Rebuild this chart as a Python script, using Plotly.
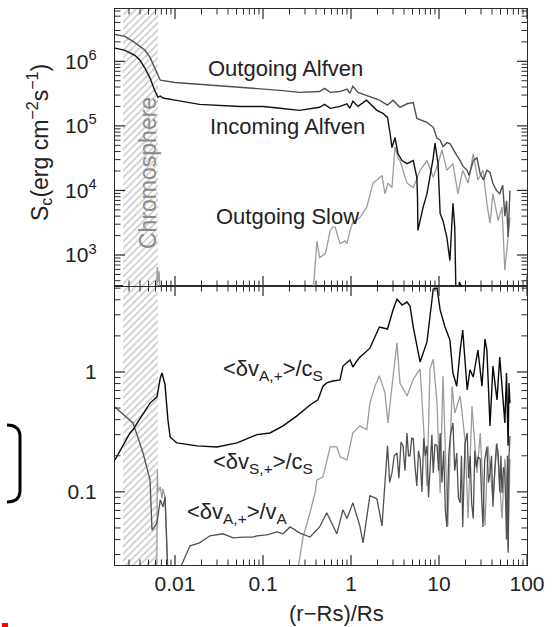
import math
import plotly.graph_objects as go

# ---------------- data ----------------
chromo_x = [0.00257, 0.0064]

# Upper panel: S_c
x_out_alf = [0.00208, 0.0027, 0.0035, 0.00456, 0.0052, 0.0059, 0.0068, 0.01, 0.019, 0.055,
             0.1, 0.156, 0.26, 0.44, 0.5, 0.58, 0.75, 0.9, 0.97, 1.05,
             1.2, 1.5, 2.1, 2.6, 3.0, 3.6, 4.33, 5.1, 5.6, 7.3,
             8.6, 9.5, 10.3, 11.1, 12.3, 13.3, 14.4, 15.9, 17.4, 18.6,
             20.9, 22, 24.5, 27, 29.4, 32, 35, 38, 41, 45,
             49, 53, 56, 58.5, 61, 64]
y_out_alf = [2.6e6, 2.44e6, 1.95e6, 1.48e6, 1.15e6, 7.8e5, 5.1e5, 4.7e5, 4.4e5, 4.0e5,
             3.8e5, 3.55e5, 3.3e5, 3.4e5, 3.8e5, 3.3e5, 3.4e5, 3.7e5, 3.2e5, 4.1e5,
             3.3e5, 2.97e5, 2.5e5, 2.1e5, 2.5e5, 1.94e5, 2.2e5, 2.3e5, 1.3e5, 1.13e5,
             9.5e4, 6.4e4, 6.0e4, 4.8e4, 5.5e4, 5.3e4, 4.5e4, 3.5e4, 2.9e4, 2.4e4,
             2.05e4, 1.7e4, 2.9e4, 3.2e4, 1.8e4, 1.45e4, 2.05e4, 1.9e4, 1.28e4, 1.0e4,
             8.9e3, 1.2e4, 4.0e3, 6.9e3, 1.9e3, 1.0e4]

x_in_alf = [0.00208, 0.0027, 0.0035, 0.004, 0.00456, 0.0052, 0.0059, 0.0064, 0.0068, 0.0073,
            0.01, 0.019, 0.055, 0.1, 0.156, 0.26, 0.44, 0.5, 0.58, 0.75,
            0.9, 0.97, 1.05, 1.2, 1.5, 1.64, 1.97, 2.31, 2.6, 2.77,
            2.92, 3.16, 3.42, 3.8, 4.33, 5.1, 5.6, 5.7, 5.76, 6.6,
            7.3, 8.6, 9.0, 9.75, 10.3, 11.1, 12.3, 13.3, 14.1, 14.4,
            15.1, 15.5, 15.9, 17.0, 18.0, 18.6]
y_in_alf = [1.6e6, 1.48e6, 1.24e6, 1.04e6, 7.8e5, 5.5e5, 3.5e5, 2.77e5, 2.9e5, 2.7e5,
            2.5e5, 2.15e5, 2.0e5, 2.0e5, 1.87e5, 1.74e5, 1.94e5, 2.15e5, 1.87e5, 2.0e5,
            2.2e5, 1.87e5, 2.4e5, 2.0e5, 2.5e5, 2.2e5, 1.74e5, 1.56e5, 1.35e5, 7.9e4,
            4.6e4, 6.6e4, 3.7e4, 2.9e4, 2.6e4, 2.9e4, 1.6e4, 7.8e3, 2.4e3, 5.5e3,
            8.9e3, 3.2e4, 5.4e4, 2.6e4, 4.4e3, 3.4e3, 1.86e3, 820, 3.4e3, 6.3e3,
            2.7e3, 510, 50, 380, 330, 50]

x_out_slow = [0.0061, 0.0063, 0.0064, 0.0066, 0.0068, None,
              0.37, 0.41, 0.44, 0.51, 0.53, 0.58, 0.62, 0.66, 0.75, 0.855,
              0.9, 0.975, 1.05, 1.26, 1.51, 1.64, 1.78, 1.97, 2.25, 2.43,
              2.63, 2.92, 3.0, 3.16, 3.42, 3.6, 4.33, 5.1, 6.1, 7.3,
              8.6, 9.75, 10.8, 12.3, 14.4, 16.4, 18.6, 21.4, 24.5, 27.7,
              31.6, 35, 38, 41, 47, 52, 56, 61, 64]
y_out_slow = [200, 650, 380, 560, 200, None,
              250, 1650, 910, 1050, 1300, 2400, 2700, 2700, 1500, 1650,
              1500, 2400, 3200, 3800, 5500, 8300, 1.3e4, 1.45e4, 1.7e4, 8.9e3,
              1.3e4, 1.1e4, 2.05e4, 4.7e4, 3.2e4, 2.9e4, 1.3e4, 1.1e4, 2.05e4, 2.9e4,
              1.6e4, 2.6e4, 4.2e4, 2.05e4, 2.6e4, 8.9e3, 2.05e4, 1.3e4, 3.7e4, 1.45e4,
              2.05e4, 6.3e3, 3.1e3, 8.9e3, 3.4e3, 5.5e3, 580, 2.2e3, 3.8e3]

# Lower panel: amplitudes
x_vA_cS = [0.00208, 0.00308, 0.00333, 0.0048, 0.0052, 0.00624, 0.0068, 0.00712, 0.0077, 0.0083,
           0.0088, 0.0105, 0.0178, 0.030, 0.0507, 0.0855, 0.12, 0.169, 0.219, 0.243,
           0.342, 0.42, 0.44, 0.48, 0.53, 0.62, 0.75, 0.81, 0.975, 1.05,
           1.17, 1.26, 1.64, 1.97, 2.1, 2.6, 3.0, 3.33, 3.8, 4.33,
           4.68, 5.1, 5.6, 6.1, 7.3, 8.6, 9.5, 10.3, 11.7, 13.3,
           14.4, 15.9, 17.4, 18.6, 20.9, 22.5, 24.5, 27.7, 30.8, 33.3,
           35, 38, 41, 45.6, 49, 52, 56, 58.5, 61, 62.4, 64]
y_vA_cS = [0.185, 0.31, 0.33, 0.51, 0.55, 0.62, 0.89, 0.98, 0.78, 0.40,
           0.287, 0.256, 0.242, 0.237, 0.256, 0.30, 0.31, 0.355, 0.41, 0.43,
           0.53, 0.585, 0.64, 0.76, 0.81, 0.84, 0.86, 1.12, 1.26, 1.10,
           1.24, 1.33, 1.58, 2.11, 2.37, 2.28, 3.29, 4.06, 3.62, 3.83,
           3.55, 2.37, 1.65, 1.21, 1.78, 4.92, 5.0, 3.29, 2.37, 1.85,
           0.98, 0.76, 1.52, 2.24, 0.71, 1.04, 0.91, 1.52, 0.76, 1.88,
           1.52, 0.355, 1.12, 0.585, 1.33, 0.72, 0.376, 0.98, 0.242, 0.81, 0.55]

x_vS_cS = [0.0062, 0.0063, 0.0064, 0.0068, 0.00712, 0.0073, 0.0077, 0.0081, 0.0083, None,
           0.243, 0.285, 0.342, 0.39, 0.41, 0.48, 0.58, 0.69, 0.75, 0.90,
           1.05, 1.26, 1.51, 1.64, 1.87, 2.1, 2.43, 2.63, 2.92, 3.33,
           3.6, 4.33, 5.1, 6.1, 6.6, 7.3, 7.9, 8.6, 9.5, 10.3,
           11.1, 12.6, 14.1, 15.1, 17.4, 19.7, 21.4, 23.7, 27.0, 29.4,
           33.3, 36, 41, 45.6, 52, 56, 58.5, 61, 64]
y_vS_cS = [0.02, 0.155, 0.10, 0.11, 0.088, 0.106, 0.091, 0.035, 0.02, None,
           0.02, 0.042, 0.067, 0.098, 0.126, 0.133, 0.237, 0.237, 0.196, 0.185,
           0.31, 0.355, 0.33, 0.55, 0.76, 0.93, 0.67, 0.376, 0.76, 1.75,
           0.81, 0.63, 0.87, 1.06, 0.405, 0.112, 1.06, 1.28, 0.55, 0.098,
           0.93, 0.052, 0.76, 0.455, 0.63, 0.277, 0.06, 0.52, 0.144, 0.31,
           0.052, 0.242, 0.0875, 0.256, 0.06, 0.188, 0.128, 0.0335, 0.188]

x_vA_vA = [0.00208, 0.00333, 0.00433, 0.0052, 0.00548, 0.00624, 0.0068, 0.0073, 0.0077, 0.0081, 0.0083, None,
           0.0105, 0.0148, 0.019, 0.025, 0.0351, 0.0456, 0.0593, 0.0769, 0.0855, 0.111,
           0.144, 0.169, 0.203, 0.26, 0.342, 0.44, 0.53, 0.69, 0.81, 0.90,
           1.05, 1.26, 1.37, 1.64, 1.97, 2.25,
           2.6, 2.75, 2.92, 3.1, 3.33, 3.5, 3.7, 3.9, 4.1, 4.33,
           4.5, 4.68, 4.9, 5.1, 5.35, 5.6, 5.85, 6.1, 6.4, 6.7,
           7.0, 7.3, 7.6, 8.0, 8.3, 8.6, 9.0, 9.5, 9.9, 10.3,
           10.8, 11.3, 11.8, 12.3, 12.9, 13.5, 14.4, 15.1, 15.9, 16.6,
           17.4, 18.0, 18.6, 19.7, 20.9, 21.7, 22.6, 23.5, 24.5, 25.5,
           26.6, 27.7, 29.4, 30.5, 31.6, 33, 35, 36.5, 38, 39.5,
           41, 43, 45, 47, 49, 50.5, 52, 54, 56, 57,
           58.5, 60, 61, 62.5, 64]
y_vA_vA = [0.51, 0.376, 0.211, 0.126, 0.048, 0.055, 0.086, 0.075, 0.091, 0.035, 0.02, None,
           0.02, 0.0355, 0.0376, 0.043, 0.0447, 0.0414, 0.042, 0.042, 0.043, 0.0438,
           0.0464, 0.0447, 0.051, 0.0455, 0.042, 0.051, 0.067, 0.0447, 0.071, 0.06,
           0.081, 0.052, 0.0376, 0.093, 0.0875, 0.052,
           0.242, 0.12, 0.144, 0.2, 0.211, 0.13, 0.26, 0.242, 0.15, 0.31,
           0.2, 0.2, 0.28, 0.277, 0.16, 0.112, 0.22, 0.188, 0.1, 0.28,
           0.2, 0.242, 0.09, 0.2, 0.3, 0.144, 0.25, 0.242, 0.15, 0.31,
           0.12, 0.22, 0.07, 0.051, 0.2, 0.3, 0.376, 0.15, 0.211, 0.09,
           0.081, 0.2, 0.051, 0.25, 0.31, 0.13, 0.2, 0.08, 0.06, 0.22,
           0.16, 0.196, 0.188, 0.09, 0.051, 0.18, 0.237, 0.12, 0.144, 0.2,
           0.075, 0.15, 0.25, 0.211, 0.1, 0.2, 0.098, 0.16, 0.144, 0.09,
           0.04, 0.2, 0.031, 0.2, 0.293]

x_tickvals = [0.01, 0.1, 1, 10, 100]
x_ticktext = ["0.01", "0.1", "1", "10", "100"]
y_top_tickvals = [1e3, 1e4, 1e5, 1e6]
y_top_ticktext = ["10<sup>3</sup>", "10<sup>4</sup>", "10<sup>5</sup>", "10<sup>6</sup>"]
y_bot_tickvals = [0.1, 1]
y_bot_ticktext = ["0.1", "1"]

# axis ranges (log10)
x_range = [-2.682, 2.0]
y_top_range = [2.52, 6.81]
y_bot_range = [-1.61, 0.717]


def minor_ticks(lo, hi):
    vals = []
    for d in range(math.floor(lo), math.ceil(hi) + 1):
        for m in range(2, 10):
            v = m * 10.0 ** d
            if lo < math.log10(v) < hi:
                vals.append(v)
    return vals


def major_ticks(lo, hi):
    return [10.0 ** d for d in range(math.floor(lo), math.ceil(hi) + 1) if lo <= d <= hi]


# ---------------- figure ----------------
FONT = "Liberation Sans, Arial, sans-serif"
AX = "#2a2a2a"
fig = go.Figure()

# chromosphere hatch (both panels)
for xa, ya, lo, hi in [("x2", "y2", 1e1, 1e8), ("x", "y", 1e-3, 1e2)]:
    fig.add_trace(go.Scatter(
        x=[chromo_x[0], chromo_x[1], chromo_x[1], chromo_x[0], chromo_x[0]],
        y=[lo, lo, hi, hi, lo], xaxis=xa, yaxis=ya,
        mode="lines", line=dict(width=0), fill="toself", fillcolor="rgba(0,0,0,0)",
        fillpattern=dict(shape="/", fgcolor="#8f8f8f", bgcolor="white", size=5, solidity=0.3),
        hoverinfo="skip"))


def line(x, y, color, width, xa, ya):
    fig.add_trace(go.Scatter(x=x, y=y, mode="lines", xaxis=xa, yaxis=ya,
                             line=dict(color=color, width=width), connectgaps=False,
                             hoverinfo="skip"))


line(x_out_slow, y_out_slow, "#9c9c9c", 1.3, "x2", "y2")
line(x_out_alf, y_out_alf, "#505050", 1.4, "x2", "y2")
line(x_in_alf, y_in_alf, "#111111", 1.4, "x2", "y2")

line(x_vS_cS, y_vS_cS, "#9c9c9c", 1.3, "x", "y")
line(x_vA_vA, y_vA_vA, "#505050", 1.3, "x", "y")
line(x_vA_cS, y_vA_cS, "#0a0a0a", 1.4, "x", "y")

# ---- inside tick marks, drawn on the axes' own log scales ----
PLOT_W, H_BOT, H_TOP = 412.0, 279.0, 277.0
MAJ, MIN = 10.0, 5.5


def tick_marks(xa, ya, yrng, h):
    px_per_dec_x = PLOT_W / (x_range[1] - x_range[0])
    px_per_dec_y = h / (yrng[1] - yrng[0])
    for vals_x, vals_y, ln, w in [(major_ticks(*x_range), major_ticks(*yrng), MAJ, 1.2),
                                  (minor_ticks(*x_range), minor_ticks(*yrng), MIN, 1.0)]:
        xs, ys = [], []
        dy = ln / px_per_dec_y
        for v in vals_x:
            for a, b in [(yrng[0], yrng[0] + dy), (yrng[1] - dy, yrng[1])]:
                xs += [v, v, None]
                ys += [10 ** a, 10 ** b, None]
        dx = ln / px_per_dec_x
        for v in vals_y:
            for a, b in [(x_range[0], x_range[0] + dx), (x_range[1] - dx, x_range[1])]:
                xs += [10 ** a, 10 ** b, None]
                ys += [v, v, None]
        fig.add_trace(go.Scatter(x=xs, y=ys, xaxis=xa, yaxis=ya, mode="lines",
                                 line=dict(color=AX, width=w), connectgaps=False,
                                 hoverinfo="skip"))


tick_marks("x", "y", y_bot_range, H_BOT)
tick_marks("x2", "y2", y_top_range, H_TOP)

tickfont = dict(family=FONT, size=21, color="#222")
frame = dict(type="log", showline=True, linecolor=AX, linewidth=1.4, mirror=True,
             ticks="", tickmode="array", showgrid=False, zeroline=False, tickfont=tickfont)

split = 279 / 556
fig.update_layout(
    width=556, height=627,
    margin=dict(l=115, r=29, t=9, b=62),
    paper_bgcolor="white", plot_bgcolor="white", showlegend=False,
    xaxis=dict(frame, domain=[0, 1], anchor="y", range=x_range,
               tickvals=x_tickvals, ticktext=x_ticktext, ticklabelstandoff=0),
    xaxis2=dict(frame, domain=[0, 1], anchor="y2", range=x_range,
                tickvals=x_tickvals, showticklabels=False),
    yaxis=dict(frame, domain=[0, split], anchor="x", range=y_bot_range,
               tickvals=y_bot_tickvals, ticktext=y_bot_ticktext, ticklabelstandoff=13),
    yaxis2=dict(frame, domain=[split, 1], anchor="x2", range=y_top_range,
                tickvals=y_top_tickvals, ticktext=y_top_ticktext, ticklabelstandoff=13),
)


def px_x(px):
    return (px - 115) / 412


def px_y(py):
    return (565 - py) / 556


ann = [
    ("Outgoing Alfven", 285, 68, 0, "#222", 22),
    ("Incoming Alfven", 287, 126, 0, "#222", 22),
    ("Outgoing Slow", 287, 216, 0, "#222", 22),
    ("Chromosphere", 148, 173, -90, "#8a8a8a", 23),
    ("&lt;δv<sub>A,+</sub>&gt;/c<sub>S</sub>", 273, 370, 0, "#222", 22),
    ("&lt;δv<sub>S,+</sub>&gt;/c<sub>S</sub>", 263, 463, 0, "#222", 22),
    ("&lt;δv<sub>A,+</sub>&gt;/v<sub>A</sub>", 237, 513, 0, "#222", 22),
    ("(r−Rs)/Rs", 336, 614, 0, "#222", 22),
    ("S<sub>c</sub>(erg cm<sup>−2</sup>s<sup>−1</sup>)", 39, 143, -90, "#222", 23),
]
for text, ax_, ay_, ang, col, sz in ann:
    fig.add_annotation(text=text, x=px_x(ax_), y=px_y(ay_), xref="paper", yref="paper",
                       showarrow=False, textangle=ang, xanchor="center", yanchor="middle",
                       font=dict(family=FONT, size=sz, color=col))

# stray marks at the left edge of the reference picture
fig.add_shape(type="path", xref="paper", yref="paper",
              path=f"M {px_x(7)},{px_y(425)} Q {px_x(20)},{px_y(425)} {px_x(20)},{px_y(437)} "
                   f"L {px_x(20)},{px_y(490)} Q {px_x(20)},{px_y(502)} {px_x(7)},{px_y(502)}",
              line=dict(color="black", width=3))
fig.add_shape(type="rect", xref="paper", yref="paper",
              x0=px_x(2), x1=px_x(8), y0=px_y(627), y1=px_y(623),
              fillcolor="red", line=dict(width=0))

fig.write_html("out.html")
